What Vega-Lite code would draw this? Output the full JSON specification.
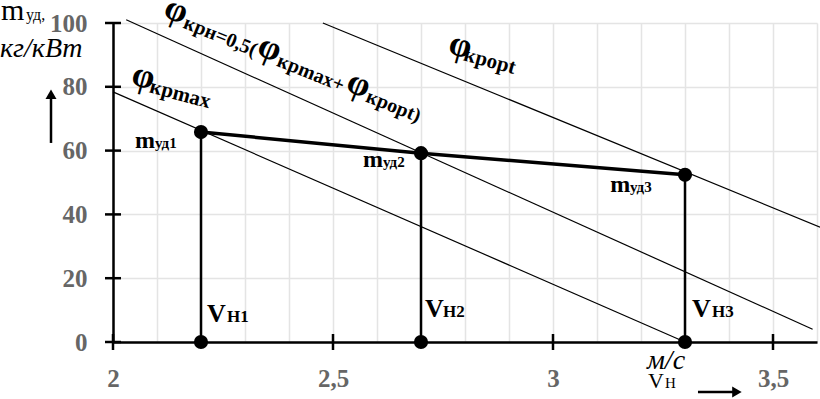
{
  "$schema": "https://vega.github.io/schema/vega-lite/v6.json",
  "width": 704,
  "height": 319,
  "autosize": "none",
  "padding": {"left": 113, "top": 23, "right": 3, "bottom": 57},
  "background": "white",
  "config": {"view": {"stroke": null}, "font": "Liberation Serif"},
  "datasets": {
    "refs": [
      {"line": "max", "x": 2.0, "y": 78.4},
      {"line": "max", "x": 3.3, "y": 0},
      {"line": "krn", "x": 2.03, "y": 101},
      {"line": "krn", "x": 3.59, "y": 4},
      {"line": "opt", "x": 2.477, "y": 100},
      {"line": "opt", "x": 3.607, "y": 36}
    ],
    "pts": [
      {"name": "1", "x": 2.2, "y": 65.8},
      {"name": "2", "x": 2.7, "y": 59.2},
      {"name": "3", "x": 3.3, "y": 52.4}
    ],
    "base": [
      {"name": "1", "x": 2.2, "y": 0},
      {"name": "2", "x": 2.7, "y": 0},
      {"name": "3", "x": 3.3, "y": 0}
    ],
    "yticks": [
      {"x": 2, "y": 0}, {"x": 2, "y": 20}, {"x": 2, "y": 40},
      {"x": 2, "y": 60}, {"x": 2, "y": 80}, {"x": 2, "y": 100}
    ],
    "xticks": [
      {"x": 2, "y": 0}, {"x": 2.5, "y": 0}, {"x": 3, "y": 0}, {"x": 3.5, "y": 0}
    ],
    "arrows": [
      {"dir": "up", "x": 1.8591, "y": 62.4, "x2": 1.8591, "y2": 76.5},
      {"dir": "right", "x": 3.3295, "y": -15.7, "x2": 3.41, "y2": -15.7}
    ],
    "heads": [
      {"dir": "up", "x": 1.8591, "y": 77.7},
      {"dir": "right", "x": 3.418, "y": -15.7}
    ],
    "texts": [
      {"kind": "phi15", "text": "φ", "x": 2.0386, "y": 80.9},
      {"kind": "sub15", "text": "крmax", "x": 2.0807, "y": 78.3},
      {"kind": "phi15", "text": "φ", "x": 2.7591, "y": 90.6},
      {"kind": "sub15", "text": "крopt", "x": 2.7945, "y": 88.3},
      {"kind": "phi22", "text": "φ", "x": 2.1114, "y": 102.2},
      {"kind": "sub22", "text": "крн=0,5(", "x": 2.1573, "y": 98.6},
      {"kind": "phi22", "text": "φ", "x": 2.3241, "y": 90.3},
      {"kind": "sub22", "text": "крmax+", "x": 2.37, "y": 86.7},
      {"kind": "phi22", "text": "φ", "x": 2.5264, "y": 79.0},
      {"kind": "sub22", "text": "крopt)", "x": 2.5723, "y": 75.5},
      {"kind": "m", "text": "m", "x": 2.05, "y": 60.8},
      {"kind": "msub", "text": "уд1", "x": 2.0955, "y": 60.8},
      {"kind": "m", "text": "m", "x": 2.568, "y": 54.9},
      {"kind": "msub", "text": "уд2", "x": 2.6136, "y": 54.9},
      {"kind": "m", "text": "m", "x": 3.13, "y": 47.0},
      {"kind": "msub", "text": "уд3", "x": 3.175, "y": 47.0},
      {"kind": "v", "text": "V", "x": 2.2136, "y": 6.27},
      {"kind": "vsub", "text": "Н1", "x": 2.2591, "y": 6.27},
      {"kind": "v", "text": "V", "x": 2.7091, "y": 7.84},
      {"kind": "vsub", "text": "Н2", "x": 2.75, "y": 7.84},
      {"kind": "v", "text": "V", "x": 3.3159, "y": 7.84},
      {"kind": "vsub", "text": "Н3", "x": 3.3614, "y": 7.84},
      {"kind": "ytm", "text": "m", "x": 1.7455, "y": 100.9},
      {"kind": "ytsub", "text": "уд,", "x": 1.8023, "y": 100.9},
      {"kind": "unit", "text": "кг/кВт", "x": 1.7432, "y": 89.3},
      {"kind": "unit", "text": "м/с", "x": 3.2136, "y": -8.6},
      {"kind": "xv", "text": "V", "x": 3.2159, "y": -14.3},
      {"kind": "xsub", "text": "Н", "x": 3.2545, "y": -14.3}
    ]
  },
  "encoding": {
    "x": {
      "field": "x", "type": "quantitative", "title": null,
      "scale": {"domain": [2, 3.6], "nice": false, "zero": false},
      "axis": {
        "values": [2, 2.1, 2.2, 2.3, 2.4, 2.5, 2.6, 2.7, 2.8, 2.9, 3, 3.1, 3.2, 3.3, 3.4, 3.5, 3.6],
        "grid": true, "gridColor": "#e4e4e4", "gridWidth": 1.5,
        "domain": true, "domainColor": "black", "domainWidth": 2.5,
        "ticks": false, "tickSize": 0,
        "labelFont": "Liberation Serif", "labelFontSize": 25, "labelFontWeight": "bold",
        "labelColor": "#666666", "labelPadding": 24, "labelOverlap": false, "labelFlush": false,
        "labelExpr": "abs(datum.value*2 - round(datum.value*2)) < 0.001 ? replace(format(datum.value, '~g'), '.', ',') : ''"
      }
    },
    "y": {
      "field": "y", "type": "quantitative", "title": null,
      "scale": {"domain": [0, 100], "nice": false},
      "axis": {
        "values": [0, 20, 40, 60, 80, 100],
        "grid": true, "gridColor": "#e4e4e4", "gridWidth": 1.5,
        "domain": true, "domainColor": "black", "domainWidth": 2.5,
        "ticks": false, "tickSize": 0,
        "labelFont": "Liberation Serif", "labelFontSize": 25, "labelFontWeight": "bold",
        "labelColor": "#666666", "labelPadding": 26
      }
    }
  },
  "layer": [
    {
      "data": {"name": "refs"},
      "mark": {"type": "line", "color": "black", "strokeWidth": 1.2},
      "encoding": {"detail": {"field": "line"}}
    },
    {
      "data": {"name": "pts"},
      "mark": {"type": "rule", "color": "black", "strokeWidth": 2.5},
      "encoding": {"y2": {"datum": 0}}
    },
    {
      "data": {"name": "pts"},
      "mark": {"type": "line", "color": "black", "strokeWidth": 3.5},
      "encoding": {}
    },
    {
      "data": {"name": "yticks"},
      "mark": {"type": "tick", "orient": "horizontal", "color": "black", "thickness": 2.5, "size": 16, "opacity": 1},
      "encoding": {}
    },
    {
      "data": {"name": "xticks"},
      "mark": {"type": "tick", "orient": "vertical", "color": "black", "thickness": 2.5, "size": 16, "opacity": 1},
      "encoding": {}
    },
    {
      "data": {"name": "pts"},
      "mark": {"type": "point", "shape": "circle", "filled": true, "color": "black", "size": 200, "opacity": 1},
      "encoding": {}
    },
    {
      "data": {"name": "base"},
      "mark": {"type": "point", "shape": "circle", "filled": true, "color": "black", "size": 200, "opacity": 1},
      "encoding": {}
    },
    {
      "data": {"name": "arrows"},
      "mark": {"type": "rule", "color": "black", "strokeWidth": 2.5},
      "encoding": {"x2": {"field": "x2"}, "y2": {"field": "y2"}}
    },
    {
      "data": {"name": "heads"},
      "transform": [{"filter": "datum.dir == 'up'"}],
      "mark": {"type": "point", "shape": "triangle-up", "filled": true, "color": "black", "size": 120, "opacity": 1},
      "encoding": {}
    },
    {
      "data": {"name": "heads"},
      "transform": [{"filter": "datum.dir == 'right'"}],
      "mark": {"type": "point", "shape": "triangle-right", "filled": true, "color": "black", "size": 120, "opacity": 1},
      "encoding": {}
    },
    {
      "data": {"name": "texts"},
      "transform": [{"filter": "datum.kind == 'phi15'"}],
      "mark": {"type": "text", "font": "Liberation Serif", "fontSize": 36, "fontWeight": "bold", "angle": 15, "align": "left", "baseline": "alphabetic", "color": "black"},
      "encoding": {"text": {"field": "text"}}
    },
    {
      "data": {"name": "texts"},
      "transform": [{"filter": "datum.kind == 'sub15'"}],
      "mark": {"type": "text", "font": "Liberation Serif", "fontSize": 21, "fontWeight": "bold", "angle": 15, "align": "left", "baseline": "alphabetic", "color": "black"},
      "encoding": {"text": {"field": "text"}}
    },
    {
      "data": {"name": "texts"},
      "transform": [{"filter": "datum.kind == 'phi22'"}],
      "mark": {"type": "text", "font": "Liberation Serif", "fontSize": 36, "fontWeight": "bold", "angle": 22, "align": "left", "baseline": "alphabetic", "color": "black"},
      "encoding": {"text": {"field": "text"}}
    },
    {
      "data": {"name": "texts"},
      "transform": [{"filter": "datum.kind == 'sub22'"}],
      "mark": {"type": "text", "font": "Liberation Serif", "fontSize": 20, "fontWeight": "bold", "angle": 22, "align": "left", "baseline": "alphabetic", "color": "black"},
      "encoding": {"text": {"field": "text"}}
    },
    {
      "data": {"name": "texts"},
      "transform": [{"filter": "datum.kind == 'm'"}],
      "mark": {"type": "text", "font": "Liberation Serif", "fontSize": 24, "fontWeight": "bold", "align": "left", "baseline": "alphabetic", "color": "black"},
      "encoding": {"text": {"field": "text"}}
    },
    {
      "data": {"name": "texts"},
      "transform": [{"filter": "datum.kind == 'msub'"}],
      "mark": {"type": "text", "font": "Liberation Serif", "fontSize": 15, "fontWeight": "bold", "align": "left", "baseline": "alphabetic", "color": "black"},
      "encoding": {"text": {"field": "text"}}
    },
    {
      "data": {"name": "texts"},
      "transform": [{"filter": "datum.kind == 'v'"}],
      "mark": {"type": "text", "font": "Liberation Serif", "fontSize": 26, "fontWeight": "bold", "align": "left", "baseline": "alphabetic", "color": "black"},
      "encoding": {"text": {"field": "text"}}
    },
    {
      "data": {"name": "texts"},
      "transform": [{"filter": "datum.kind == 'vsub'"}],
      "mark": {"type": "text", "font": "Liberation Serif", "fontSize": 17, "fontWeight": "bold", "align": "left", "baseline": "alphabetic", "color": "black"},
      "encoding": {"text": {"field": "text"}}
    },
    {
      "data": {"name": "texts"},
      "transform": [{"filter": "datum.kind == 'ytm'"}],
      "mark": {"type": "text", "font": "Liberation Serif", "fontSize": 30, "align": "left", "baseline": "alphabetic", "color": "black"},
      "encoding": {"text": {"field": "text"}}
    },
    {
      "data": {"name": "texts"},
      "transform": [{"filter": "datum.kind == 'ytsub'"}],
      "mark": {"type": "text", "font": "Liberation Serif", "fontSize": 16, "align": "left", "baseline": "alphabetic", "color": "black"},
      "encoding": {"text": {"field": "text"}}
    },
    {
      "data": {"name": "texts"},
      "transform": [{"filter": "datum.kind == 'unit'"}],
      "mark": {"type": "text", "font": "Liberation Serif", "fontSize": 28, "fontStyle": "italic", "align": "left", "baseline": "alphabetic", "color": "black"},
      "encoding": {"text": {"field": "text"}}
    },
    {
      "data": {"name": "texts"},
      "transform": [{"filter": "datum.kind == 'xv'"}],
      "mark": {"type": "text", "font": "Liberation Serif", "fontSize": 22, "align": "left", "baseline": "alphabetic", "color": "black"},
      "encoding": {"text": {"field": "text"}}
    },
    {
      "data": {"name": "texts"},
      "transform": [{"filter": "datum.kind == 'xsub'"}],
      "mark": {"type": "text", "font": "Liberation Serif", "fontSize": 15, "align": "left", "baseline": "alphabetic", "color": "black"},
      "encoding": {"text": {"field": "text"}}
    }
  ]
}
